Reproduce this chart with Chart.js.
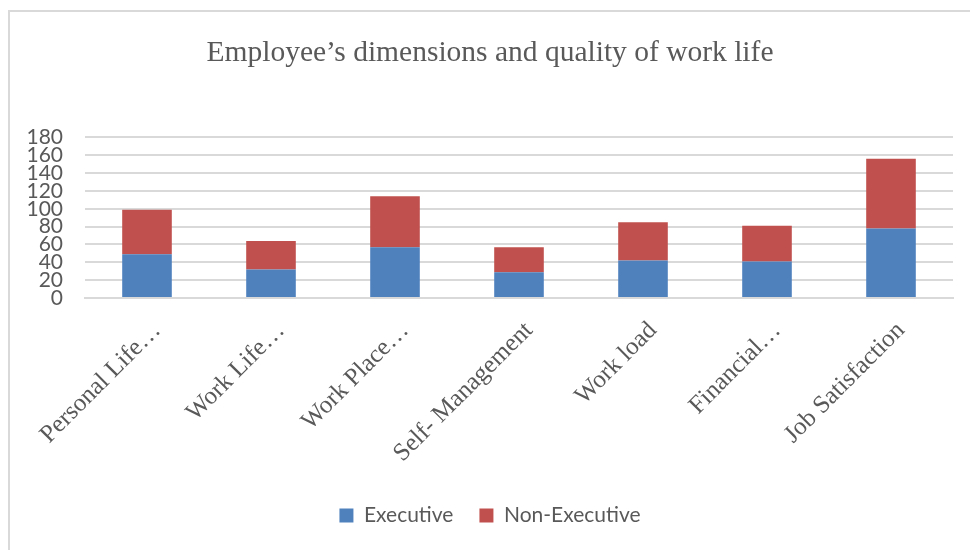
<!DOCTYPE html>
<html>
<head>
<meta charset="utf-8">
<script src="https://cdn.jsdelivr.net/npm/chart.js@4"></script>
<style>
  html, body { margin: 0; padding: 0; background: #fff; }
  #wrap { position: relative; width: 970px; height: 550px; overflow: hidden; }
  #frame { position: absolute; left: 8px; top: 10px; width: 1000px; height: 600px;
           border-top: 2px solid #d9d9d9; border-left: 2px solid #d9d9d9; }
  canvas { position: absolute; left: 0; top: 0; }
</style>
</head>
<body>
<div id="wrap">
  <div id="frame"></div>
  <canvas id="c" width="970" height="550"></canvas>
</div>
<script>
const categories = ["Personal Life\u2026", "Work Life\u2026", "Work Place\u2026", "Self- Management", "Work load", "Financial\u2026", "Job Satisfaction"];
const executive = [49, 32, 57, 29, 42, 41, 78];
const nonExecutive = [50, 32, 57, 28, 43, 40, 78];
const yTicks = [0, 20, 40, 60, 80, 100, 120, 140, 160, 180];

const ctx = document.getElementById('c');
new Chart(ctx, {
  type: 'bar',
  data: {
    labels: categories,
    datasets: [
      { label: 'Executive', data: executive, backgroundColor: '#4f81bd', borderWidth: 0 },
      { label: 'Non-Executive', data: nonExecutive, backgroundColor: '#c0504d', borderWidth: 0 }
    ]
  },
  options: {
    responsive: false,
    animation: false,
    devicePixelRatio: 1,
    layout: { padding: { left: 27, right: 17, top: 36, bottom: 14 } },
    datasets: { bar: { categoryPercentage: 1.0, barPercentage: 0.4 } },
    plugins: {
      title: {
        display: true,
        text: "Employee\u2019s dimensions and quality of work life",
        color: '#595959',
        font: { family: "'Liberation Serif', serif", size: 29.5, weight: 'normal' },
        padding: { top: 0, bottom: 66 }
      },
      legend: {
        position: 'bottom',
        labels: {
          color: '#595959',
          font: { family: 'Lato, sans-serif', size: 21 },
          boxWidth: 14, boxHeight: 14, padding: 26
        }
      },
      tooltip: { enabled: false }
    },
    scales: {
      x: {
        stacked: true,
        grid: { display: false },
        border: { display: true, color: '#d9d9d9', width: 2 },
        ticks: {
          color: '#595959',
          font: { family: "'Liberation Serif', serif", size: 25 },
          minRotation: 45, maxRotation: 45,
          labelOffset: 10,
          padding: 10,
          autoSkip: false
        },
        afterFit: (s) => { s.paddingLeft = 0; s.paddingRight = 0; s.height = 181; }
      },
      y: {
        stacked: true,
        min: 0, max: 180,
        afterBuildTicks: (axis) => { axis.ticks = yTicks.map(v => ({ value: v })); },
        grid: { color: '#d9d9d9', lineWidth: 2, drawTicks: false },
        border: { display: false },
        ticks: {
          color: '#595959',
          font: { family: 'Lato, sans-serif', size: 21 },
          padding: 22,
          autoSkip: false
        },
        afterFit: (s) => { s.width = 58; }
      }
    }
  }
});
</script>
</body>
</html>
